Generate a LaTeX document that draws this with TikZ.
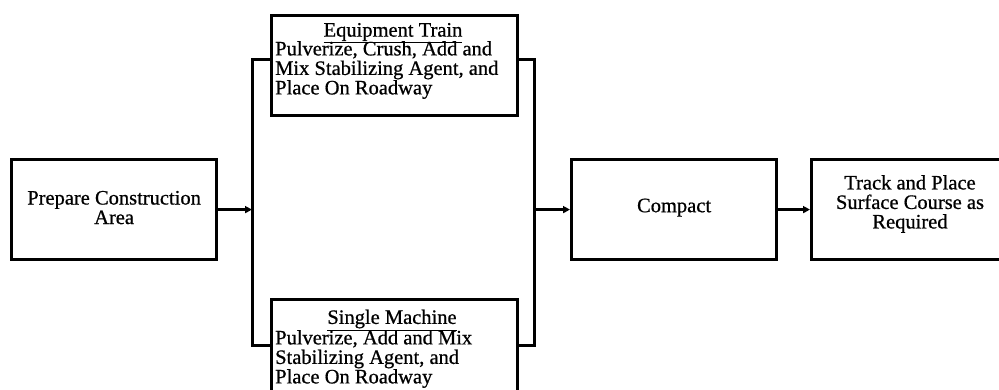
\documentclass[tikz,border=0pt]{standalone}
\usepackage{fontspec}
\setmainfont{Liberation Serif}[FakeBold=0.7]
\usetikzlibrary{arrows.meta}
\begin{document}
\begin{tikzpicture}[x=1pt,y=-1pt,
  box/.style={draw,line width=3.2pt,inner sep=0pt,anchor=north west},
  txt/.style={font=\fontsize{20.5}{19.5}\selectfont,inner sep=0pt,align=center},
  conn/.style={line width=3pt},
  arr/.style={conn,-{Triangle[length=7pt,width=7pt]}}]
\useasboundingbox (0,0) rectangle (999,390);
\begin{scope}
\clip (0,0) rectangle (999,390);
\node[box,minimum width=205pt,minimum height=100pt] (prep) at (10,158) {};
\node[box,minimum width=246pt,minimum height=100pt] (eq) at (270,14) {};
\node[box,minimum width=246pt,minimum height=110pt] (sm) at (270,298) {};
\node[box,minimum width=205pt,minimum height=100pt] (comp) at (570,158) {};
\node[box,minimum width=200pt,minimum height=100pt] (track) at (810,158) {};

\node[txt] (prept) at ([yshift=2pt]prep.center) {Prepare Construction\\Area};
\node[txt] (compt) at ([yshift=2pt]comp.center) {Compact};
\node[txt] (trackt) at (910,204) {Track and Place\\Surface Course as\\Required};
\node[txt] (eqt) at (393,33) {\underline{Equipment Train}};
\node[txt,align=left,anchor=west] (eqb) at (275,70) {Pulverize, Crush, Add and\\Mix Stabilizing Agent, and\\Place On Roadway};
\node[txt] (smt) at (392,320) {\underline{Single Machine}};
\node[txt,align=left,anchor=west] (smb) at (275,359) {Pulverize, Add and Mix\\Stabilizing Agent, and\\Place On Roadway};

\coordinate (Ltop) at (252,60);
\coordinate (Lbot) at (252,345);
\coordinate (Rtop) at (534,60);
\coordinate (Rbot) at (534,345);
\coordinate (L) at (prep.east -| Ltop);
\coordinate (R) at (comp.west -| Rtop);

\draw[conn] (eq.west |- Ltop) -- (Ltop) -- (Lbot) -- (sm.west |- Lbot);
\draw[conn] (eq.east |- Rtop) -- (Rtop) -- (Rbot) -- (sm.east |- Rbot);
\draw[arr] (prep.east) -- (L);
\draw[arr] (R) -- (comp.west);
\draw[arr] (comp.east) -- (track.west);
\end{scope}
\end{tikzpicture}
\end{document}
